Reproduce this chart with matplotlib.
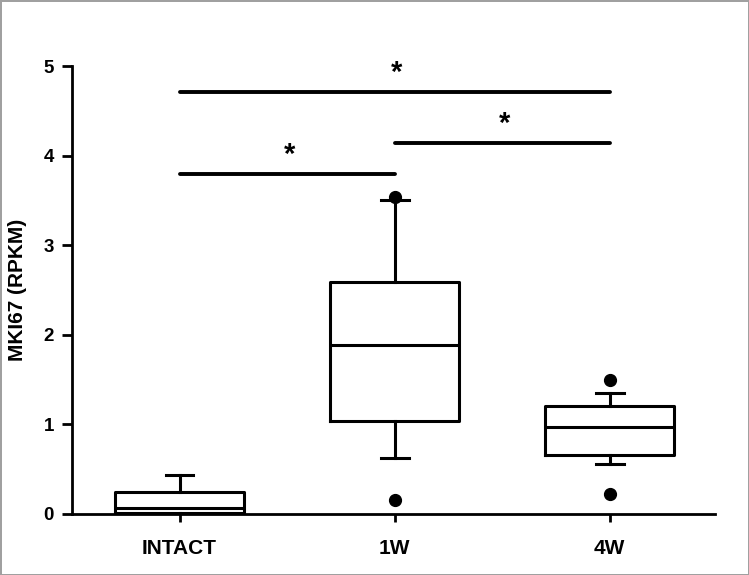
import matplotlib.pyplot as plt

# groups
groups = ['INTACT', '1W', '4W']
# box stats (RPKM)
whislo = [0.0, 0.62, 0.56]
q1 = [0.015, 1.04, 0.66]
med = [0.065, 1.89, 0.97]
q3 = [0.24, 2.59, 1.21]
whishi = [0.44, 3.51, 1.35]
fliers = [[], [3.54, 0.16], [1.50, 0.22]]

# significance bars: (from group, to group, height)
sig_from = [1, 2, 1]
sig_to = [2, 3, 3]
sig_y = [3.79, 4.14, 4.71]

plt.rcParams['font.family'] = ['Liberation Sans', 'DejaVu Sans']
plt.rcParams['font.weight'] = 'bold'

fig = plt.figure(figsize=(7.49, 5.75), dpi=100)
fig.patch.set_edgecolor('#a0a0a0')
fig.patch.set_linewidth(2)
ax = fig.add_axes([0.0961, 0.1061, 0.8585, 0.7791])

stats = []
for i, g in enumerate(groups):
    stats.append({'label': g, 'whislo': whislo[i], 'q1': q1[i], 'med': med[i],
                  'q3': q3[i], 'whishi': whishi[i], 'fliers': fliers[i]})

positions = [1, 2, 3]
ax.bxp(stats, positions=positions, widths=0.6, capwidths=0.13,
       boxprops=dict(color='black', linewidth=2.2),
       medianprops=dict(color='black', linewidth=2.2),
       whiskerprops=dict(color='black', linewidth=2.2),
       capprops=dict(color='black', linewidth=2.2),
       flierprops=dict(marker='o', markerfacecolor='black', markeredgecolor='black',
                       markersize=8.5))

# significance lines
for a, b, y in zip(sig_from, sig_to, sig_y):
    ax.plot([a, b], [y, y], color='black', linewidth=2.8, solid_capstyle='round')
    ax.text((a + b) / 2 + 0.01, y + 0.06, '*', ha='center', va='bottom', fontsize=21,
            fontweight='bold')

ax.set_xlim(0.5, 3.49)
ax.set_ylim(0, 5)
ax.set_yticks([0, 1, 2, 3, 4, 5])
ax.set_xticks(positions)
ax.set_xticklabels(groups, fontsize=15, fontweight='bold')
ax.tick_params(axis='y', labelsize=13.5, width=2, length=7, pad=6)
ax.tick_params(axis='x', width=2, length=6, pad=12)
for lab in ax.get_yticklabels():
    lab.set_fontweight('bold')
ax.set_ylabel('MKI67 (RPKM)', fontsize=15, fontweight='bold', labelpad=12)

ax.spines['top'].set_visible(False)
ax.spines['right'].set_visible(False)
ax.spines['left'].set_linewidth(2)
ax.spines['bottom'].set_linewidth(2)

fig.savefig('out.png', dpi=100)
